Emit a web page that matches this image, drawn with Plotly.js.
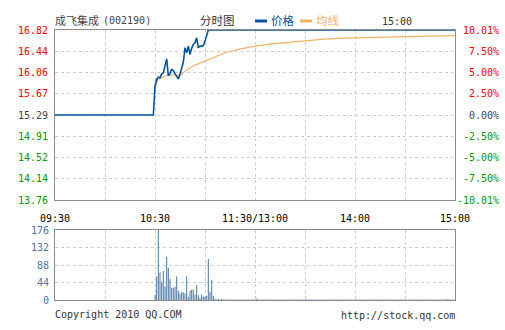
<!DOCTYPE html>
<html><head><meta charset="utf-8">
<script src="https://cdn.plot.ly/plotly-3.0.1.min.js"></script>
<style>html,body{margin:0;padding:0;background:#fff}#chart{width:505px;height:330px}</style>
</head><body><div id="chart"></div>
<script>
// minutes since 09:30 (lunch break removed: 11:30 and 13:00 share minute 120)
const timeTicks  = [0, 30, 60, 90, 120, 150, 180, 210, 240];
const timeLabels = ['09:30', '', '10:30', '', '11:30/13:00', '', '14:00', '', '15:00'];

const prevClose = 15.29;
const priceMinutes = [0, 59, 60, 61, 62, 63, 64, 65, 66, 67, 68, 69, 70, 71, 72, 73, 74, 75, 76, 77, 78, 79,
                      80, 81, 82, 83, 84, 85, 86, 87, 88, 89, 90, 91, 92, 240];
const priceValues  = [15.29, 15.29, 15.81, 15.93, 15.97, 15.96, 16.03, 16.05, 16.17, 16.30, 16.00, 16.03,
                      16.11, 16.09, 16.03, 15.98, 15.94, 16.03, 16.12, 16.24, 16.50, 16.41,
                      16.53, 16.38, 16.49, 16.56, 16.59, 16.68, 16.50, 16.53, 16.53, 16.54, 16.62, 16.74, 16.82, 16.82];

const avgMinutes = [60, 61, 62, 63, 68, 72, 75, 78, 82, 86, 90, 96, 102, 110, 120, 130, 140, 150, 160, 170, 180, 195, 210, 225, 240];
const avgValues  = [15.80, 15.88, 15.93, 15.95, 16.01, 16.01, 16.00, 16.08, 16.16, 16.21, 16.26, 16.34, 16.41,
                    16.47, 16.53, 16.57, 16.60, 16.63, 16.65, 16.67, 16.68, 16.69, 16.70, 16.71, 16.72];

const volStartMinute = 60;
const volValues = [
  14, 59, 176, 69, 46, 73, 34, 109, 81, 53,      // 60-69
  31, 31, 34, 59, 23, 16, 20, 19, 17, 59,        // 70-79
  8, 23, 26, 26, 14, 37, 12, 5, 13, 9,           // 80-89
  8, 11, 103, 21, 50, 11, 3, 1, 3, 1,            // 90-99
  3, 1, 1, 1, 1, 1, 1, 1, 1, 1,                  // 100-109
  1, 1, 1, 1, 1, 1, 1, 1, 1, 1,                  // 110-119
  1, 3, 1, 1, 1, 1, 1, 1, 1, 1,                  // 120-129
  1, 1, 1, 1, 1, 1, 1, 1, 1, 1,                  // 130-139
  1, 1, 1, 1, 1, 1, 1, 1, 1, 1,                  // 140-149
  1, 1, 1, 1, 1, 1, 1, 1, 1, 1,                  // 150-159
  1, 1, 1, 1, 1, 1, 1, 1, 1, 1,                  // 160-169
  1, 1, 1, 1, 1, 1, 1, 1, 1, 1,                  // 170-179
  1, 1, 1, 1, 1, 1, 1, 1, 1, 1,                  // 180-189
  1, 1, 1, 1, 1, 1, 1, 1, 1, 1,                  // 190-199
  1, 1, 1, 1, 1, 1, 1, 1, 1, 1,                  // 200-209
  1, 1, 1, 1, 1, 1, 1, 1, 1, 1,                  // 210-219
  1, 1, 1, 1, 1, 1, 1, 1, 1, 1,                  // 220-229
  1, 1, 1, 1, 1, 3, 1, 1, 1, 1,                  // 230-239
  1                                              // 240
];

const priceTicks = [13.76, 14.14, 14.52, 14.91, 15.29, 15.67, 16.06, 16.44, 16.82];
const pctTicks   = [-10.01, -7.50, -5.00, -2.50, 0.00, 2.50, 5.00, 7.50, 10.01];
const volTicks   = [0, 44, 88, 132, 176];

const MONO = '"DejaVu Sans Mono", "Liberation Mono", monospace';
const CJK = '"Noto Sans CJK SC", sans-serif';
const RED = '#ff0000', GREEN = '#009900', NEUTRAL = '#444444';
const BLUE = '#0055a2', ORANGE = '#f5b062', BAR = '#4f7ba6', VOLTXT = '#4a74a8';
const GRID = '#cccccc', FRAME = '#8a8a8a';

function colorFor(v, ref) { return v > ref ? RED : (v < ref ? GREEN : NEUTRAL); }
const priceText = priceTicks.map(v => `<span style="color:${colorFor(v, prevClose)}">${v.toFixed(2)}</span>`);
const pctText = pctTicks.map(v => {
  const s = v.toFixed(2) + '%';
  const pad = '\u00a0'.repeat(Math.max(0, 7 - s.length));
  return `<span style="color:${colorFor(v, 0)}">${pad}${s}</span>`;
});
const volMinutes = volValues.map((_, i) => volStartMinute + i);

const traces = [
  { type: 'bar', x: volMinutes, y: volValues, xaxis: 'x2', yaxis: 'y3',
    marker: { color: BAR, line: { width: 0 } }, width: 0.62, hoverinfo: 'skip' },
  { type: 'scatter', mode: 'lines', x: avgMinutes, y: avgValues, xaxis: 'x', yaxis: 'y',
    line: { color: ORANGE, width: 1.2 }, name: '均线' },
  { type: 'scatter', mode: 'lines', x: priceMinutes, y: priceValues, xaxis: 'x', yaxis: 'y',
    line: { color: BLUE, width: 1.6 }, name: '价格' },
  { type: 'scatter', mode: 'lines', x: priceMinutes, y: priceValues.map(p => (p / prevClose - 1) * 100),
    xaxis: 'x', yaxis: 'y2', line: { width: 0 }, opacity: 0, hoverinfo: 'skip', showlegend: false }
];

const gridA = { showgrid: true, gridcolor: GRID, gridwidth: 1, griddash: 'dot', zeroline: false,
  showline: true, mirror: true, linecolor: FRAME, linewidth: 1, ticks: '' };

const px = v => (v - 55) / 400;
const py = v => (300 - v) / 270;

const layout = {
  width: 505, height: 330,
  margin: { l: 55, r: 50, t: 30, b: 30 },
  paper_bgcolor: '#ffffff', plot_bgcolor: '#ffffff',
  showlegend: false,
  font: { family: MONO, size: 10, color: '#333' },
  xaxis: Object.assign({}, gridA, { anchor: 'y', domain: [0, 1], range: [0, 240], tickvals: timeTicks, ticktext: timeLabels,
    tickfont: { family: MONO, size: 10, color: '#000' }, ticklabelstandoff: 9 }),
  yaxis: Object.assign({}, gridA, { anchor: 'x', domain: [100 / 270, 1], range: [13.76, 16.82], tickvals: priceTicks, ticktext: priceText,
    tickfont: { family: MONO, size: 10 }, ticklabelstandoff: 4 }),
  yaxis2: { overlaying: 'y', side: 'right', anchor: 'x', range: [-10.01, 10.01], tickvals: pctTicks, ticktext: pctText,
    showgrid: false, zeroline: false, showline: false, ticks: '', tickfont: { family: MONO, size: 10 }, ticklabelstandoff: 1 },
  xaxis2: Object.assign({}, gridA, { anchor: 'y3', domain: [0, 1], range: [0, 240], tickvals: timeTicks, showticklabels: false }),
  yaxis3: Object.assign({}, gridA, { anchor: 'x2', domain: [0, 70 / 270], range: [0, 176], tickvals: volTicks,
    tickfont: { family: MONO, size: 10, color: VOLTXT }, ticklabelstandoff: 3 }),
  shapes: [
    { type: 'line', xref: 'paper', yref: 'paper', x0: px(255), x1: px(267), y0: py(21), y1: py(21), line: { color: BLUE, width: 3 } },
    { type: 'line', xref: 'paper', yref: 'paper', x0: px(300), x1: px(312), y0: py(21), y1: py(21), line: { color: ORANGE, width: 3 } }
  ],
  annotations: [
    { text: '成飞集成', xref: 'paper', yref: 'paper', x: px(53), y: py(20), xanchor: 'left', yanchor: 'middle', showarrow: false,
      font: { family: CJK, size: 11, color: '#444' } },
    { text: '(002190)', xref: 'paper', yref: 'paper', x: px(101), y: py(20), xanchor: 'left', yanchor: 'middle', showarrow: false,
      font: { family: MONO, size: 10, color: '#444' } },
    { text: '分时图', xref: 'paper', yref: 'paper', x: px(198), y: py(20), xanchor: 'left', yanchor: 'middle', showarrow: false,
      font: { family: CJK, size: 11.5, color: '#333' } },
    { text: '价格', xref: 'paper', yref: 'paper', x: px(269), y: py(20), xanchor: 'left', yanchor: 'middle', showarrow: false,
      font: { family: CJK, size: 11.5, color: BLUE } },
    { text: '均线', xref: 'paper', yref: 'paper', x: px(314), y: py(20), xanchor: 'left', yanchor: 'middle', showarrow: false,
      font: { family: CJK, size: 11.5, color: ORANGE } },
    { text: '15:00', xref: 'paper', yref: 'paper', x: px(380), y: py(22), xanchor: 'left', yanchor: 'middle', showarrow: false,
      font: { family: MONO, size: 10, color: '#333' } },
    { text: 'Copyright 2010 QQ.COM', xref: 'paper', yref: 'paper', x: px(53), y: py(314), xanchor: 'left', yanchor: 'middle', showarrow: false,
      font: { family: MONO, size: 10, color: '#333' } },
    { text: 'http://stock.qq.com', xref: 'paper', yref: 'paper', x: px(457), y: py(315), xanchor: 'right', yanchor: 'middle', showarrow: false,
      font: { family: MONO, size: 10, color: '#333' } }
  ]
};

Plotly.newPlot('chart', traces, layout, { staticPlot: true, displayModeBar: false });
</script>
</body></html>
